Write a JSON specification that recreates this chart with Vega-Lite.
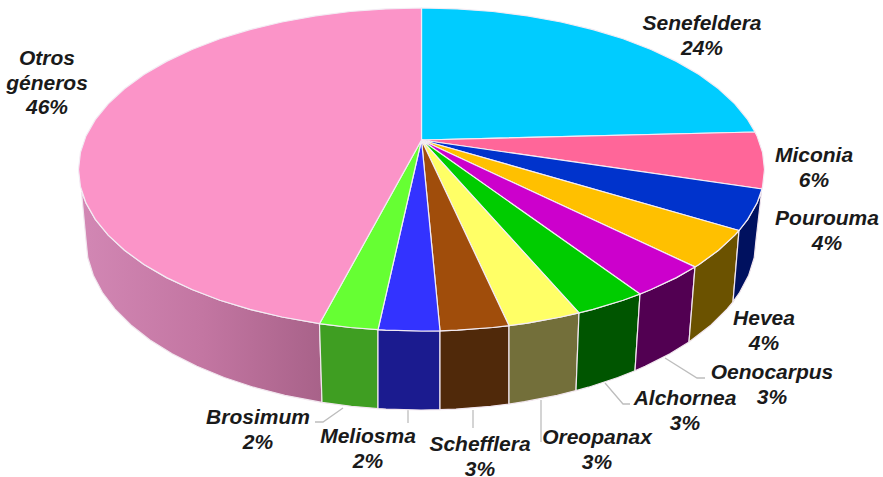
{
"$schema":"https://vega.github.io/schema/vega-lite/v6.json",
"width":883,"height":477,"padding":0,
"autosize":{"type":"fit","contains":"padding"},
"background":"#ffffff",
"view":{"stroke":null},
"projection":{"type":"identity","reflectY":true,"scale":1,"translate":[421.5,140]},
"resolve":{"scale":{"color":"independent"}},
"datasets":{
"walls":[
{"type":"Feature","properties":{"genus":"Otros géneros","percent":46},"geometry":{"type":"Polygon","coordinates":[[[-102,-183.7],[-139.5,-177],[-171.5,-169.4],[-201.6,-160.2],[-229.5,-149.5],[-254.9,-137.6],[-277.5,-124.4],[-297,-110.3],[-313.3,-95.2],[-326.2,-79.4],[-335.5,-63.1],[-340,-52],[-335.5,-100],[-333.7,-117.8],[-328.2,-135.3],[-319.1,-152.5],[-306.5,-169.1],[-290.6,-185],[-271.5,-199.9],[-249.4,-213.7],[-224.6,-226.3],[-197.4,-237.5],[-168,-247.2],[-136.7,-255.3],[-99.5,-262.4],[-102,-183.7]]]}},
{"type":"Feature","properties":{"genus":"Brosimum","percent":2},"geometry":{"type":"Polygon","coordinates":[[[-43.5,-189.7],[-71.3,-187.5],[-102,-183.7],[-99.5,-262.4],[-70.1,-266.3],[-43.5,-268.6],[-43.5,-189.7]]]}},
{"type":"Feature","properties":{"genus":"Meliosma","percent":2},"geometry":{"type":"Polygon","coordinates":[[[18.5,-190.8],[0,-191],[-35.9,-190.1],[-43.5,-189.7],[-43.5,-268.6],[-35.5,-269.1],[-0.5,-270],[18.5,-269.7],[18.5,-190.8]]]}},
{"type":"Feature","properties":{"genus":"Schefflera","percent":3},"geometry":{"type":"Polygon","coordinates":[[[87.5,-185.7],[71.3,-187.5],[35.9,-190.1],[18.5,-190.8],[18.5,-269.7],[34.5,-269.1],[69.1,-266.3],[87.5,-264],[87.5,-185.7]]]}},
{"type":"Feature","properties":{"genus":"Oreopanax","percent":3},"geometry":{"type":"Polygon","coordinates":[[[157.5,-172.9],[139.5,-177],[106,-183.1],[87.5,-185.7],[87.5,-264],[103,-261.7],[135.7,-255.3],[154.5,-250.6],[157.5,-172.9]]]}},
{"type":"Feature","properties":{"genus":"Alchornea","percent":3},"geometry":{"type":"Polygon","coordinates":[[[218.5,-154],[201.6,-160.2],[171.5,-169.4],[157.5,-172.9],[154.5,-250.6],[167,-247.2],[196.4,-237.5],[213.5,-230.7],[218.5,-154]]]}},
{"type":"Feature","properties":{"genus":"Oenocarpus","percent":3},"geometry":{"type":"Polygon","coordinates":[[[273.5,-126.9],[254.9,-137.6],[229.5,-149.5],[218.5,-154],[213.5,-230.7],[223.6,-226.3],[248.4,-213.7],[267.5,-202],[273.5,-126.9]]]}},
{"type":"Feature","properties":{"genus":"Hevea","percent":4},"geometry":{"type":"Polygon","coordinates":[[[317.5,-90.5],[313.3,-95.2],[297,-110.3],[277.5,-124.4],[273.5,-126.9],[267.5,-202],[289.6,-185],[305.5,-169.1],[311.5,-161.9],[317.5,-90.5]]]}},
{"type":"Feature","properties":{"genus":"Pourouma","percent":4},"geometry":{"type":"Polygon","coordinates":[[[340,-52],[335.5,-63.1],[326.2,-79.4],[317.5,-90.5],[311.5,-161.9],[318.1,-152.5],[327.2,-135.3],[332.7,-117.8],[334.5,-100],[340,-52]]]}}
],
"tops":[
{"type":"Feature","properties":{"genus":"Senefeldera","percent":24},"geometry":{"type":"Polygon","coordinates":[[[0,0],[0,132],[35.9,131.1],[71.3,128.5],[106,124.1],[139.5,118],[171.5,110.4],[201.6,101.2],[229.5,90.5],[254.9,78.6],[277.5,65.4],[297,51.3],[313.3,36.2],[326.2,20.4],[333.5,8],[0,0]]]}},
{"type":"Feature","properties":{"genus":"Miconia","percent":6},"geometry":{"type":"Polygon","coordinates":[[[0,0],[333.5,8],[335.5,4.1],[341.1,-12.6],[343,-29.5],[341.1,-46.4],[340.5,-49],[0,0]]]}},
{"type":"Feature","properties":{"genus":"Pourouma","percent":4},"geometry":{"type":"Polygon","coordinates":[[[0,0],[340.5,-49],[335.5,-63.1],[326.2,-79.4],[317.5,-90.5],[0,0]]]}},
{"type":"Feature","properties":{"genus":"Hevea","percent":4},"geometry":{"type":"Polygon","coordinates":[[[0,0],[317.5,-90.5],[313.3,-95.2],[297,-110.3],[277.5,-124.4],[273.5,-126.9],[0,0]]]}},
{"type":"Feature","properties":{"genus":"Oenocarpus","percent":3},"geometry":{"type":"Polygon","coordinates":[[[0,0],[273.5,-126.9],[254.9,-137.6],[229.5,-149.5],[218.5,-154],[0,0]]]}},
{"type":"Feature","properties":{"genus":"Alchornea","percent":3},"geometry":{"type":"Polygon","coordinates":[[[0,0],[218.5,-154],[201.6,-160.2],[171.5,-169.4],[157.5,-172.9],[0,0]]]}},
{"type":"Feature","properties":{"genus":"Oreopanax","percent":3},"geometry":{"type":"Polygon","coordinates":[[[0,0],[157.5,-172.9],[139.5,-177],[106,-183.1],[87.5,-185.7],[0,0]]]}},
{"type":"Feature","properties":{"genus":"Schefflera","percent":3},"geometry":{"type":"Polygon","coordinates":[[[0,0],[87.5,-185.7],[71.3,-187.5],[35.9,-190.1],[18.5,-190.8],[0,0]]]}},
{"type":"Feature","properties":{"genus":"Meliosma","percent":2},"geometry":{"type":"Polygon","coordinates":[[[0,0],[18.5,-190.8],[0,-191],[-35.9,-190.1],[-43.5,-189.7],[0,0]]]}},
{"type":"Feature","properties":{"genus":"Brosimum","percent":2},"geometry":{"type":"Polygon","coordinates":[[[0,0],[-43.5,-189.7],[-71.3,-187.5],[-102,-183.7],[0,0]]]}},
{"type":"Feature","properties":{"genus":"Otros géneros","percent":46},"geometry":{"type":"Polygon","coordinates":[[[0,0],[-102,-183.7],[-139.5,-177],[-171.5,-169.4],[-201.6,-160.2],[-229.5,-149.5],[-254.9,-137.6],[-277.5,-124.4],[-297,-110.3],[-313.3,-95.2],[-326.2,-79.4],[-335.5,-63.1],[-341.1,-46.4],[-343,-29.5],[-341.1,-12.6],[-335.5,4.1],[-326.2,20.4],[-313.3,36.2],[-297,51.3],[-277.5,65.4],[-254.9,78.6],[-229.5,90.5],[-201.6,101.2],[-171.5,110.4],[-139.5,118],[-106,124.1],[-71.3,128.5],[-35.9,131.1],[0,132],[0,0]]]}}
],
"leaders":[
{"type":"Feature","properties":{"genus":"Brosimum"},"geometry":{"type":"LineString","coordinates":[[-78.5,-268],[-98.5,-282],[-106.5,-282]]}},
{"type":"Feature","properties":{"genus":"Meliosma"},"geometry":{"type":"LineString","coordinates":[[-13.5,-270],[-13.5,-283]]}},
{"type":"Feature","properties":{"genus":"Schefflera"},"geometry":{"type":"LineString","coordinates":[[51.5,-270],[51.5,-288]]}},
{"type":"Feature","properties":{"genus":"Oreopanax"},"geometry":{"type":"LineString","coordinates":[[119.5,-260],[119.5,-302]]}},
{"type":"Feature","properties":{"genus":"Alchornea"},"geometry":{"type":"LineString","coordinates":[[183.5,-243],[201.5,-264],[208.5,-264]]}},
{"type":"Feature","properties":{"genus":"Oenocarpus"},"geometry":{"type":"LineString","coordinates":[[243.5,-218],[275.5,-238],[283.5,-238]]}}
],
"labels":[
{"label":"Senefeldera\n24%","lon":280.5,"lat":116},
{"label":"Miconia\n6%","lon":392.5,"lat":-16},
{"label":"Pourouma\n4%","lon":405.5,"lat":-79},
{"label":"Hevea\n4%","lon":342.5,"lat":-179},
{"label":"Oenocarpus\n3%","lon":350.5,"lat":-233},
{"label":"Alchornea\n3%","lon":263.5,"lat":-259},
{"label":"Oreopanax\n3%","lon":175.5,"lat":-298},
{"label":"Schefflera\n3%","lon":58.5,"lat":-305},
{"label":"Meliosma\n2%","lon":-53.5,"lat":-297},
{"label":"Brosimum\n2%","lon":-163.5,"lat":-278},
{"label":"Otros\ngéneros\n46%","lon":-374.5,"lat":81}
]
},
"layer":[
{"data":{"name":"leaders"},
 "mark":{"type":"geoshape","filled":false,"stroke":"#bdbdbd","strokeWidth":1.3}},
{"data":{"name":"walls"},
 "transform":[{"filter":"datum.properties.genus === 'Otros géneros'"}],
 "mark":{"type":"geoshape","stroke":"#f1e6ee","strokeWidth":1.2,
  "fill":{"gradient":"linear","x1":0,"x2":1,"y1":0,"y2":0,
   "stops":[{"offset":0,"color":"#d287b4"},{"offset":0.5,"color":"#c376a2"},{"offset":1,"color":"#a86289"}]}}},
{"data":{"name":"walls"},
 "transform":[{"filter":"datum.properties.genus !== 'Otros géneros'"}],
 "mark":{"type":"geoshape","stroke":"#f1e6ee","strokeWidth":1.2},
 "encoding":{"color":{"field":"properties.genus","type":"nominal","legend":null,
  "scale":{"domain":["Brosimum","Meliosma","Schefflera","Oreopanax","Alchornea","Oenocarpus","Hevea","Pourouma"],
           "range":["#3f9e22","#1b1b8f","#50290a","#736f3a","#005500","#520052","#6b5200","#00115f"]}}}},
{"data":{"name":"tops"},
 "mark":{"type":"geoshape","stroke":"#f3ecf4","strokeWidth":1.2},
 "encoding":{"color":{"field":"properties.genus","type":"nominal","legend":null,
  "scale":{"domain":["Senefeldera","Miconia","Pourouma","Hevea","Oenocarpus","Alchornea","Oreopanax","Schefflera","Meliosma","Brosimum","Otros géneros"],
           "range":["#00ccff","#ff6699","#0033cc","#ffc000","#cc00cc","#00cc00","#ffff66","#a04d0b","#3333ff","#66ff33","#fb94c8"]}}}},
{"data":{"name":"labels"},
 "mark":{"type":"text","font":"Liberation Sans","fontWeight":"bold","fontStyle":"italic","fontSize":21,"lineHeight":24.5,"lineBreak":"\n","align":"center","baseline":"middle","color":"#1a1a1a"},
 "encoding":{"longitude":{"field":"lon","type":"quantitative"},"latitude":{"field":"lat","type":"quantitative"},"text":{"field":"label"}}}
]
}
